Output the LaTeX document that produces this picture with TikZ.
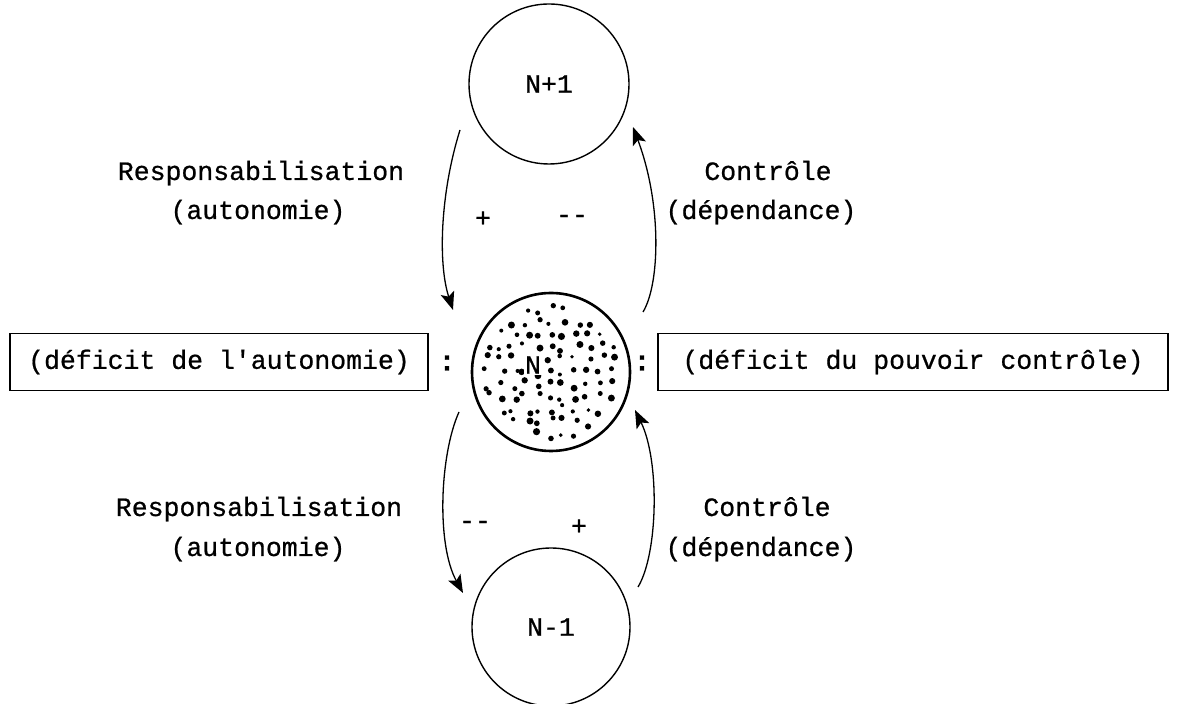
\documentclass[tikz,border=0pt]{standalone}
\usepackage{fontspec}
\setmonofont{Liberation Mono}[FakeBold=0.7]
\usetikzlibrary{arrows.meta, calc}

\begin{document}
\begin{tikzpicture}[x=1pt, y=1pt,
    every node/.style={font=\ttfamily\fontsize{26.5}{30}\selectfont},
    niveau/.style={draw, circle, line width=1.4pt, minimum size=160pt, inner sep=0pt},
    cadre/.style={draw, line width=1.3pt, minimum height=57pt, inner sep=0pt},
    fleche/.style={line width=1.3pt, -{Stealth[length=18pt, width=14pt, inset=4pt]}},
    txt/.style={anchor=base}]
  \useasboundingbox (0,0) rectangle (1179,704);

  % Niveaux
  \node[niveau] (haut) at (549,620) {N+1};
  \node[niveau, line width=2.6pt, minimum size=158pt] (centre) at (551,332) {};
  \node[niveau, minimum size=158pt] (bas) at (551,77) {N-1};

  % Points du niveau N
  \pgfmathsetseed{23}
  \foreach \gx in {-6,...,6}
    \foreach \gy in {-6,...,6}{
      \pgfmathsetmacro\px{\gx*12.5+9*(rnd-0.5)}
      \pgfmathsetmacro\py{\gy*12.5+9*(rnd-0.5)}
      \pgfmathsetmacro\dsz{1.9+1.7*rnd}
      \pgfmathtruncatemacro\dedans{(\px*\px+\py*\py<4760)?1:0}
      \ifnum\dedans=1 \fill ($(centre)+(\px,\py)$) circle[radius=\dsz pt]; \fi
    }
  \node[fill=white, inner sep=1.5pt] (lettre) at ($(centre)+(-18,7)$) {N};

  % Cadres
  \node[cadre, minimum width=418pt] (gauche) at (219,342) {(déficit de l'autonomie)};
  \node[cadre, minimum width=510pt] (droite) at (913,342) {(déficit du pouvoir contrôle)};
  \node[font=\ttfamily\bfseries\fontsize{28}{30}\selectfont] (dp1) at (447,341) {:};
  \node[font=\ttfamily\bfseries\fontsize{28}{30}\selectfont] (dp2) at (642,341) {:};

  % Textes
  \node[txt] (resp1) at (261,524) {Responsabilisation};
  \node[txt] (auto1) at (258,485) {(autonomie)};
  \node[txt] (ctrl1) at (768,524) {Contrôle};
  \node[txt] (dep1) at (761,485) {(dépendance)};
  \node[txt] (resp2) at (259,188) {Responsabilisation};
  \node[txt] (auto2) at (258,148) {(autonomie)};
  \node[txt] (ctrl2) at (767,188) {Contrôle};
  \node[txt] (dep2) at (761,148) {(dépendance)};

  \node (plus1) at (483,485) {+};
  \node (moins1) at (572,485) {{-}{-}};
  \node (moins2) at (475,179) {{-}{-}};
  \node (plus2) at (579,177) {+};

  % Fleches
  \coordinate (a1) at ($(haut)+(-89,-46)$);
  \coordinate (b1) at ($(centre)+(-98,62)$);
  \draw[fleche] (a1) .. controls +(-20,-64) and +(-15,46) .. (b1);
  \coordinate (a2) at ($(centre)+(92,60)$);
  \coordinate (b2) at ($(haut)+(84,-43)$);
  \draw[fleche] (a2) .. controls +(17,28) and +(29,-77) .. (b2);
  \coordinate (a3) at ($(centre)+(-92,-40)$);
  \coordinate (b3) at ($(bas)+(-88,34)$);
  \draw[fleche] (a3) .. controls +(-19,-42) and +(-27,49) .. (b3);
  \coordinate (a4) at ($(bas)+(87,40)$);
  \coordinate (b4) at ($(centre)+(84,-38)$);
  \draw[fleche] (a4) .. controls +(20,33) and +(25,-51) .. (b4);
\end{tikzpicture}
\end{document}
